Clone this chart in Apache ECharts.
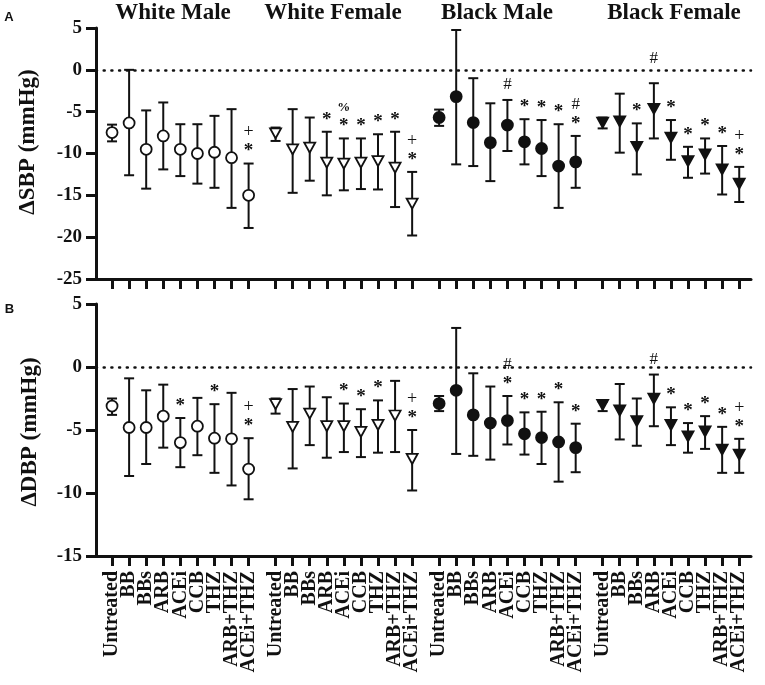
<!DOCTYPE html>
<html>
<head>
<meta charset="utf-8">
<script src="https://cdn.jsdelivr.net/npm/echarts@6/dist/echarts.min.js"></script>
<style>
html, body { margin: 0; padding: 0; background: #fff; }
#chart { width: 765px; height: 685px; }
</style>
</head>
<body>
<div id="chart"></div>
<script>
// categories and groups
var categories = ['Untreated', 'BB', 'BBs', 'ARB', 'ACEi', 'CCB', 'THZ', 'ARB+THZ', 'ACEi+THZ'];
var groupNames = ['White Male', 'White Female', 'Black Male', 'Black Female'];
var sbpTicks = [-25, -20, -15, -10, -5, 0, 5];
var dbpTicks = [-15, -10, -5, 0, 5];

// ΔSBP (panel A): mean, upper and lower end of error bar
var sbpWmMean = [-7.5, -6.35, -9.5, -7.9, -9.5, -10.0, -9.85, -10.5, -15.0];
var sbpWmHi   = [-6.55, 0.0, -4.85, -3.9, -6.5, -6.5, -5.5, -4.7, -11.2];
var sbpWmLo   = [-8.55, -12.6, -14.2, -11.9, -12.7, -13.6, -14.1, -16.5, -18.9];
var sbpWfMean = [-7.6, -9.5, -9.3, -11.1, -11.2, -11.1, -10.9, -11.7, -16.0];
var sbpWfHi   = [-6.9, -4.7, -5.7, -7.4, -8.2, -8.2, -7.7, -7.4, -12.2];
var sbpWfLo   = [-8.5, -14.7, -13.25, -15.0, -14.4, -14.25, -14.3, -16.4, -19.8];
var sbpBmMean = [-5.7, -3.2, -6.3, -8.7, -6.6, -8.6, -9.4, -11.5, -11.0];
var sbpBmHi   = [-4.75, 4.76, -1.0, -4.0, -3.6, -5.9, -6.0, -6.5, -7.9];
var sbpBmLo   = [-6.7, -11.3, -11.5, -13.3, -9.7, -11.3, -12.7, -16.5, -14.1];
var sbpBfMean = [-6.3, -6.15, -9.2, -4.65, -8.1, -10.9, -10.1, -11.9, -13.6];
var sbpBfHi   = [-5.7, -2.85, -6.4, -1.6, -6.0, -9.2, -8.2, -9.1, -11.6];
var sbpBfLo   = [-7.0, -9.9, -12.5, -8.2, -10.75, -12.9, -12.4, -14.9, -15.8];

// ΔDBP (panel B)
var dbpWmMean = [-3.1, -4.8, -4.8, -3.9, -6.0, -4.7, -5.65, -5.7, -8.1];
var dbpWmHi   = [-2.5, -0.9, -1.85, -1.4, -4.05, -2.45, -2.95, -2.05, -5.65];
var dbpWmLo   = [-3.8, -8.65, -7.7, -6.4, -7.95, -7.0, -8.4, -9.4, -10.5];
var dbpWfMean = [-2.95, -4.75, -3.7, -4.7, -4.7, -5.15, -4.6, -3.85, -7.3];
var dbpWfHi   = [-2.5, -1.75, -1.55, -2.4, -2.9, -3.35, -2.65, -1.1, -5.0];
var dbpWfLo   = [-3.7, -8.05, -6.2, -7.2, -6.75, -7.15, -6.8, -6.75, -9.8];
var dbpBmMean = [-2.9, -1.85, -3.8, -4.45, -4.25, -5.3, -5.6, -5.95, -6.4];
var dbpBmHi   = [-2.3, 3.1, -0.5, -1.55, -2.3, -3.6, -3.55, -2.8, -4.5];
var dbpBmLo   = [-3.5, -6.9, -7.05, -7.35, -6.15, -6.95, -7.7, -9.1, -8.35];
var dbpBfMean = [-3.0, -3.45, -4.3, -2.5, -4.6, -5.5, -5.1, -6.55, -6.95];
var dbpBfHi   = [-2.75, -1.35, -2.5, -0.6, -3.2, -4.45, -3.9, -4.75, -5.7];
var dbpBfLo   = [-3.5, -5.75, -6.25, -4.7, -6.2, -6.8, -6.5, -8.4, -8.4];

// significance marks, listed bottom to top
var sbpWmMarks = ['', '', '', '', '', '', '', '', '*+'];
var sbpWfMarks = ['', '', '', '*', '*%', '*', '*', '*', '*+'];
var sbpBmMarks = ['', '', '', '', '#', '*', '*', '*', '*#'];
var sbpBfMarks = ['', '', '*', '#', '*', '*', '*', '*', '*+'];
var dbpWmMarks = ['', '', '', '', '*', '', '*', '', '*+'];
var dbpWfMarks = ['', '', '', '', '*', '*', '*', '', '*+'];
var dbpBmMarks = ['', '', '', '', '*#', '*', '*', '*', '*'];
var dbpBfMarks = ['', '', '', '#', '*', '*', '*', '*', '*+'];

var SERIF = '"Liberation Serif", "Times New Roman", serif';
var INK = '#111';
var X_MIN = -0.94, X_MAX = 37.43;

// x positions: 9 slots per group plus a small gap between groups
var groupStride = categories.length + 0.58;
function xPos(g, i) { return +(g * groupStride + i).toFixed(2); }
var tickPositions = [];
var tickNames = {};
groupNames.forEach(function (n, g) {
    categories.forEach(function (c, i) {
        var p = xPos(g, i);
        tickPositions.push(p);
        tickNames[p.toFixed(2)] = c;
    });
});
// labels are packed tighter than their line height, so split them over two
// label-only axes (alternate ticks) to stop ECharts from dropping end labels
var evenPositions = tickPositions.filter(function (v, k) { return k % 2 === 0; });
var oddPositions = tickPositions.filter(function (v, k) { return k % 2 === 1; });

var panels = [
    { mean: [sbpWmMean, sbpWfMean, sbpBmMean, sbpBfMean],
      hi: [sbpWmHi, sbpWfHi, sbpBmHi, sbpBfHi],
      lo: [sbpWmLo, sbpWfLo, sbpBmLo, sbpBfLo],
      marks: [sbpWmMarks, sbpWfMarks, sbpBmMarks, sbpBfMarks],
      ticks: sbpTicks },
    { mean: [dbpWmMean, dbpWfMean, dbpBmMean, dbpBfMean],
      hi: [dbpWmHi, dbpWfHi, dbpBmHi, dbpBfHi],
      lo: [dbpWmLo, dbpWfLo, dbpBmLo, dbpBfLo],
      marks: [dbpWmMarks, dbpWfMarks, dbpBmMarks, dbpBfMarks],
      ticks: dbpTicks }
];

var symbols = [
    { symbol: 'circle', size: 11, rotate: 0, fill: '#fff' },
    { symbol: 'triangle', size: [11, 10], rotate: 180, fill: '#fff' },
    { symbol: 'circle', size: 11, rotate: 0, fill: INK },
    { symbol: 'triangle', size: [11, 10], rotate: 180, fill: INK }
];

var markFonts = {
    '*': { font: 'bold 19px ' + SERIF, dy: 3 },
    '+': { font: 'normal 18px ' + SERIF, dy: 0 },
    '#': { font: 'normal 17px ' + SERIF, dy: 0 },
    '%': { font: 'bold 13px ' + SERIF, dy: 0 }
};

function errorBarItem(params, api) {
    var x = api.value(0);
    var lo = api.coord([x, api.value(1)]);
    var hi = api.coord([x, api.value(2)]);
    var half = 5;
    var st = { stroke: INK, lineWidth: 2 };
    return {
        type: 'group',
        children: [
            { type: 'line', shape: { x1: hi[0], y1: hi[1], x2: lo[0], y2: lo[1] }, style: st },
            { type: 'line', shape: { x1: hi[0] - half, y1: hi[1], x2: hi[0] + half, y2: hi[1] }, style: st },
            { type: 'line', shape: { x1: lo[0] - half, y1: lo[1], x2: lo[0] + half, y2: lo[1] }, style: st }
        ]
    };
}

function markItem(marks) {
    return function (params, api) {
        var s = marks[params.dataIndex] || '';
        var p = api.coord([api.value(0), api.value(1)]);
        var zeroY = api.coord([api.value(0), 0])[1];
        var children = [];
        var y = p[1] - 15;
        // keep a mark off the dotted zero line
        if (Math.abs(y - zeroY) < 5) y = zeroY - 11;
        for (var k = 0; k < s.length; k++) {
            var ch = s.charAt(k);
            var f = markFonts[ch];
            children.push({
                type: 'text',
                x: p[0],
                y: y - 16 * k + f.dy,
                style: { text: ch, font: f.font, fill: INK,
                         align: 'center', verticalAlign: 'middle',
                         textAlign: 'center', textVerticalAlign: 'middle' }
            });
        }
        return { type: 'group', children: children };
    };
}

var grids = [
    { left: 96, top: 28, width: 655, height: 251, outerBoundsMode: 'none' },
    { left: 96, top: 304, width: 655, height: 252, outerBoundsMode: 'none' }
];

function labelAxis(values) {
    return {
        type: 'value', gridIndex: 1, position: 'bottom', min: X_MIN, max: X_MAX,
        axisLine: { show: false, onZero: false },
        axisTick: { show: false },
        splitLine: { show: false },
        axisLabel: {
            show: true, customValues: values, rotate: 90, margin: 15,
            showMinLabel: true, showMaxLabel: true, hideOverlap: false,
            fontFamily: SERIF, fontWeight: 'bold', fontSize: 20, color: INK,
            formatter: function (v) { return tickNames[(+v).toFixed(2)] || ''; }
        }
    };
}

var xAxes = [], yAxes = [], series = [];
panels.forEach(function (panel, p) {
    xAxes.push({
        type: 'value', gridIndex: p, position: 'bottom', min: X_MIN, max: X_MAX,
        axisLine: { show: true, onZero: false, lineStyle: { color: INK, width: 3 } },
        axisTick: { show: true, customValues: tickPositions, length: 10, lineStyle: { color: INK, width: 3 } },
        axisLabel: { show: false },
        splitLine: { show: false }
    });
    yAxes.push({
        type: 'value', gridIndex: p,
        min: panel.ticks[0], max: panel.ticks[panel.ticks.length - 1], interval: 5,
        axisLine: { show: true, onZero: false, lineStyle: { color: INK, width: 3 } },
        axisTick: { show: true, length: 10, lineStyle: { color: INK, width: 3 } },
        axisLabel: { margin: 14, showMinLabel: true, showMaxLabel: true,
                     fontFamily: SERIF, fontWeight: 'bold', fontSize: 19, color: INK },
        splitLine: { show: false }
    });
    groupNames.forEach(function (name, g) {
        var bars = categories.map(function (c, i) { return [xPos(g, i), panel.lo[g][i], panel.hi[g][i]]; });
        var pts = categories.map(function (c, i) { return [xPos(g, i), panel.mean[g][i]]; });
        var tops = categories.map(function (c, i) { return [xPos(g, i), panel.hi[g][i]]; });
        var bar = {
            type: 'custom', name: name, xAxisIndex: p, yAxisIndex: p,
            renderItem: errorBarItem, data: bars, clip: false, silent: true, z: 2
        };
        if (g === 0) {
            bar.markLine = {
                silent: true, symbol: 'none', label: { show: false },
                lineStyle: { color: INK, width: 2.5, type: [1, 6.7], cap: 'round' },
                data: [{ yAxis: 0 }]
            };
        }
        series.push(bar);
        series.push({
            type: 'scatter', name: name, xAxisIndex: p, yAxisIndex: p, data: pts,
            symbol: symbols[g].symbol, symbolSize: symbols[g].size, symbolRotate: symbols[g].rotate,
            itemStyle: { color: symbols[g].fill, borderColor: INK, borderWidth: 1.8, opacity: 1 },
            silent: true, z: 5
        });
        series.push({
            type: 'custom', xAxisIndex: p, yAxisIndex: p,
            renderItem: markItem(panel.marks[g]), data: tops, clip: false, silent: true, z: 6
        });
    });
});
xAxes.push(labelAxis(evenPositions), labelAxis(oddPositions));

var titleX = [173, 333, 497, 674];
var graphics = groupNames.map(function (n, g) {
    return { type: 'text', x: titleX[g], y: 13.5,
             style: { text: n, font: 'bold 23px ' + SERIF, fill: INK,
                      align: 'center', verticalAlign: 'middle', textAlign: 'center', textVerticalAlign: 'middle' } };
});
graphics.push(
    { type: 'text', x: 28, y: 142, rotation: Math.PI / 2,
      style: { text: 'ΔSBP (mmHg)', font: 'bold 23px ' + SERIF, fill: INK,
               align: 'center', verticalAlign: 'middle', textAlign: 'center', textVerticalAlign: 'middle' } },
    { type: 'text', x: 30, y: 432, rotation: Math.PI / 2,
      style: { text: 'ΔDBP (mmHg)', font: 'bold 23px ' + SERIF, fill: INK,
               align: 'center', verticalAlign: 'middle', textAlign: 'center', textVerticalAlign: 'middle' } },
    { type: 'text', x: 9, y: 17.5,
      style: { text: 'A', font: 'bold 13px "Liberation Sans", Arial, sans-serif', fill: INK,
               align: 'center', verticalAlign: 'middle', textAlign: 'center', textVerticalAlign: 'middle' } },
    { type: 'text', x: 9.5, y: 309.5,
      style: { text: 'B', font: 'bold 13px "Liberation Sans", Arial, sans-serif', fill: INK,
               align: 'center', verticalAlign: 'middle', textAlign: 'center', textVerticalAlign: 'middle' } }
);

var myChart = echarts.init(document.getElementById('chart'));
myChart.setOption({
    animation: false,
    backgroundColor: '#fff',
    grid: grids,
    xAxis: xAxes,
    yAxis: yAxes,
    graphic: graphics,
    series: series
});
</script>
</body>
</html>
